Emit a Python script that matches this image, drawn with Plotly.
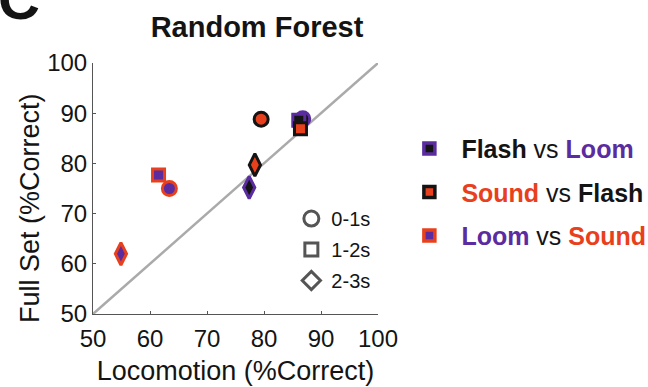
import plotly.graph_objects as go

# ---- data ----
series = ["Flash vs Loom", "Sound vs Flash", "Loom vs Sound"]
windows = ["0-1s", "1-2s", "2-3s"]
loco_flash_loom = [86.8, 86.1, 77.4]
full_flash_loom = [88.9, 88.6, 75.2]
loco_sound_flash = [79.5, 86.4, 78.4]
full_sound_flash = [88.8, 86.9, 79.7]
loco_loom_sound = [63.4, 61.5, 54.9]
full_loom_sound = [75.0, 77.7, 62.0]
x_ticks = [50, 60, 70, 80, 90, 100]
y_ticks = [50, 60, 70, 80, 90, 100]

PURPLE = "#5B2C9F"
ORANGE = "#E8401C"
BLACK = "#141414"
GRAY = "#555555"
FONT = "Liberation Sans, Arial, Helvetica, sans-serif"

data_symbols = ["circle", "square", "diamond-tall"]
data_sizes = [14, 12, 16]

fills = [BLACK, ORANGE, PURPLE]
edges = [PURPLE, BLACK, ORANGE]
xs = [loco_flash_loom, loco_sound_flash, loco_loom_sound]
ys = [full_flash_loom, full_sound_flash, full_loom_sound]

fig = go.Figure()

# identity line
fig.add_trace(go.Scatter(x=[x_ticks[0], x_ticks[-1]], y=[y_ticks[0], y_ticks[-1]],
                         mode="lines", line=dict(color="#AAAAAA", width=2.5),
                         showlegend=False, hoverinfo="skip"))

for name, x, y, fc, ec in zip(series, xs, ys, fills, edges):
    fig.add_trace(go.Scatter(
        x=x, y=y, mode="markers", name=name, showlegend=False,
        text=windows, cliponaxis=False,
        marker=dict(symbol=data_symbols, size=data_sizes, color=fc, opacity=1,
                    line=dict(color=ec, width=3))))

# series legend (legend2)
labels = [
    "<b>Flash</b> vs <b><span style='color:%s'>Loom</span></b>" % PURPLE,
    "<b><span style='color:%s'>Sound</span></b> vs <b>Flash</b>" % ORANGE,
    "<b><span style='color:%s'>Loom</span></b> vs <b><span style='color:%s'>Sound</span></b>" % (PURPLE, ORANGE),
]
for i, (lab, fc, ec) in enumerate(zip(labels, fills, edges)):
    fig.add_trace(go.Scatter(
        x=[None], y=[None], mode="markers", name=lab, legend="legend2",
        legendgroup="s%d" % i,
        marker=dict(symbol="square", size=11, color=fc, opacity=1,
                    line=dict(color=ec, width=3.5))))

# time-window legend (legend)
legend_symbols = ["circle", "square", "diamond"]
legend_sizes = [15, 13, 14]
for i, (w, s, sz) in enumerate(zip(windows, legend_symbols, legend_sizes)):
    fig.add_trace(go.Scatter(
        x=[None], y=[None], mode="markers", name=w, legend="legend",
        legendgroup="w%d" % i,
        marker=dict(symbol=s, size=sz, color="white", opacity=1,
                    line=dict(color=GRAY, width=3))))

axis_common = dict(
    showgrid=False, zeroline=False, showline=True, linecolor=GRAY, linewidth=1,
    ticks="inside", ticklen=3, tickcolor=GRAY, tickwidth=1,
    tickfont=dict(family=FONT, size=24, color=BLACK), mirror=False,
)

fig.update_layout(
    width=648, height=387,
    margin=dict(l=93, r=270, t=63, b=73, pad=0, autoexpand=False),
    paper_bgcolor="white", plot_bgcolor="white",
    font=dict(family=FONT, color=BLACK),
    title=dict(text="<b>Random Forest</b>", font=dict(family=FONT, size=29, color=BLACK),
               x=257 / 648, xref="container", xanchor="center",
               y=1 - 27 / 387, yref="container", yanchor="middle"),
    xaxis=dict(range=[50, 100], tickvals=x_ticks, ticklabelstandoff=3,
               title=dict(text="Locomotion (%Correct)", font=dict(family=FONT, size=27, color=BLACK),
                          standoff=10),
               **axis_common),
    yaxis=dict(range=[50, 100], tickvals=y_ticks, **axis_common),
    legend=dict(x=0.696, y=0.458, xanchor="left", yanchor="top", bgcolor="rgba(0,0,0,0)",
                font=dict(family=FONT, size=20, color=BLACK), itemwidth=30,
                tracegroupgap=2, borderwidth=0),
    legend2=dict(x=1.068, y=0.75, xanchor="left", yanchor="top", bgcolor="rgba(0,0,0,0)",
                 font=dict(family=FONT, size=25, color=BLACK), itemwidth=54,
                 tracegroupgap=8, borderwidth=0),
    annotations=[
        dict(text="Full Set (%Correct)", textangle=-90, xref="paper", yref="paper",
             x=(30 - 93) / 285.5, y=(314 - 208) / 251, xanchor="center", yanchor="middle",
             showarrow=False, font=dict(family=FONT, size=27, color=BLACK)),
        dict(text="<b>C</b>", xref="paper", yref="paper",
             x=(42 - 93) / 285.5, y=(314 - 33) / 251, xanchor="right", yanchor="bottom",
             showarrow=False, font=dict(family=FONT, size=58, color=BLACK)),
    ],
)

fig.write_html("out.html", config={"displayModeBar": False},
               post_script="document.body.style.margin='0';")
